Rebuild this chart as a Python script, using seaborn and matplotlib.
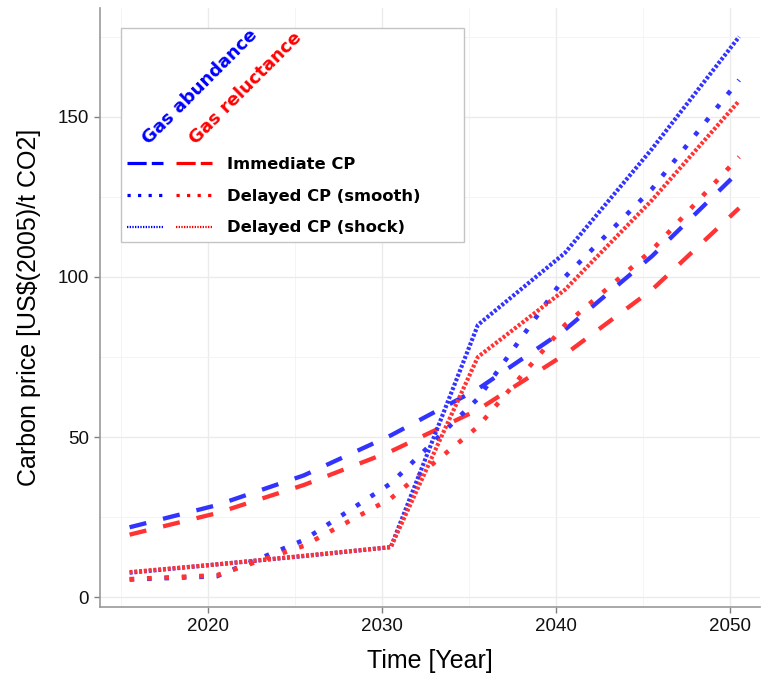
import matplotlib
matplotlib.use('Agg')
import matplotlib.pyplot as plt
import seaborn as sns
import pandas as pd
from matplotlib.lines import Line2D
from matplotlib.legend_handler import HandlerTuple
from matplotlib.patches import Rectangle
from matplotlib.ticker import FixedLocator

# ---------------- data ----------------
years = [2015.5, 2020.5, 2025.5, 2030.5, 2035.5, 2040.5, 2045.5, 2050.5]
abund_immediate = [21.8, 28.7, 38.0, 50.5, 65.0, 83.5, 106.5, 133.0]
reluc_immediate = [19.5, 26.2, 35.0, 45.5, 58.5, 75.8, 96.0, 121.5]
abund_smooth = [5.5, 6.5, 17.8, 35.5, 62.0, 100.0, 127.5, 161.5]
reluc_smooth = [5.6, 6.8, 16.0, 30.8, 53.2, 85.0, 108.4, 137.5]
abund_shock = [7.6, 10.2, 12.8, 15.6, 85.0, 107.5, 140.0, 175.0]
reluc_shock = [7.8, 10.2, 12.9, 15.6, 75.0, 96.0, 124.0, 155.0]

scenarios = ['Gas abundance', 'Gas reluctance']
policies = ['Immediate CP', 'Delayed CP (smooth)', 'Delayed CP (shock)']
xticks = [2020, 2030, 2040, 2050]
yticks = [0, 50, 100, 150]
x_minor = [2015, 2025, 2035, 2045]
y_minor = [25, 75, 125, 175]

series = {
    ('Gas abundance', 'Immediate CP'): abund_immediate,
    ('Gas reluctance', 'Immediate CP'): reluc_immediate,
    ('Gas abundance', 'Delayed CP (smooth)'): abund_smooth,
    ('Gas reluctance', 'Delayed CP (smooth)'): reluc_smooth,
    ('Gas abundance', 'Delayed CP (shock)'): abund_shock,
    ('Gas reluctance', 'Delayed CP (shock)'): reluc_shock,
}
rows = []
for (gas, pol), vals in series.items():
    for y, v in zip(years, vals):
        rows.append({'gas': gas, 'policy': pol, 'year': y, 'price': v})
df = pd.DataFrame(rows)

# ---------------- styling ----------------
sns.set_theme(style='white')
plt.rcParams['font.family'] = ['Liberation Sans', 'DejaVu Sans']

line_colors = {'Gas abundance': '#3333ff', 'Gas reluctance': '#ff3333'}
key_colors = {'Gas abundance': '#0000ff', 'Gas reluctance': '#ff0000'}
styles = {
    'Immediate CP': dict(lw=3.1, ls=(0, (4, 4))),
    'Delayed CP (smooth)': dict(lw=3.3, ls=(0, (1, 2.8))),
    'Delayed CP (shock)': dict(lw=3.0, ls=(0, (0.7, 0.45))),
}

fig = plt.figure(figsize=(7.61, 6.82), dpi=100)
fig.patch.set_facecolor('white')
ax = fig.add_axes([100 / 761, 75 / 682, 660 / 761, 599 / 682])
ax.set_facecolor('white')

for pol in policies:
    for gas in scenarios:
        sub = df[(df['gas'] == gas) & (df['policy'] == pol)]
        sns.lineplot(data=sub, x='year', y='price', ax=ax, color=line_colors[gas],
                     linewidth=styles[pol]['lw'], linestyle=styles[pol]['ls'],
                     legend=False, zorder=3)

ax.set_xlim(2013.8, 2051.7)
ax.set_ylim(-3.1, 184)
ax.set_xticks(xticks)
ax.set_yticks(yticks)
ax.xaxis.set_minor_locator(FixedLocator(x_minor))
ax.yaxis.set_minor_locator(FixedLocator(y_minor))
ax.grid(True, which='major', color='#ebebeb', lw=1.0, zorder=0)
ax.grid(True, which='minor', color='#f3f3f3', lw=0.6, zorder=0)
ax.set_axisbelow(True)

for s in ['top', 'right']:
    ax.spines[s].set_visible(False)
for s in ['left', 'bottom']:
    ax.spines[s].set_color('#9a9a9a')
    ax.spines[s].set_linewidth(1.2)

ax.tick_params(axis='both', which='major', length=4, width=1, color='#7f7f7f',
               labelsize=13.5, labelcolor='#111111', direction='out', pad=4,
               bottom=True, left=True)
ax.tick_params(axis='both', which='minor', length=0)
ax.set_xlabel('Time [Year]', fontsize=18, labelpad=10, color='black')
ax.set_ylabel(r'Carbon price [US\$(2005)/t CO2]', fontsize=18, labelpad=12, color='black')

# ---------------- legend ----------------
frame = Rectangle((21 / 660, 365 / 599), 343 / 660, 214 / 599, transform=ax.transAxes,
                  facecolor='white', edgecolor='#c4c4c4', lw=1.0, zorder=4)
ax.add_patch(frame)

key_styles = {
    'Immediate CP': dict(lw=2.3, ls=(0, (6.0, 1.6))),
    'Delayed CP (smooth)': dict(lw=2.3, ls=(0, (1.0, 2.3))),
    'Delayed CP (shock)': dict(lw=1.6, ls=(0, (0.6, 0.6))),
}
handles = []
for pol in policies:
    hb = Line2D([], [], color=key_colors['Gas abundance'], lw=key_styles[pol]['lw'],
                linestyle=key_styles[pol]['ls'])
    hr = Line2D([], [], color=key_colors['Gas reluctance'], lw=key_styles[pol]['lw'],
                linestyle=key_styles[pol]['ls'])
    handles.append((hb, hr))

leg = ax.legend(handles=handles, labels=policies,
                handler_map={tuple: HandlerTuple(ndivide=None, pad=0.8)},
                loc='upper left', bbox_to_anchor=(27 / 660, (607 - 157) / 599),
                frameon=False, handlelength=5.2, handletextpad=0.9,
                labelspacing=1.02, borderpad=0, borderaxespad=0,
                prop={'family': 'DejaVu Sans', 'weight': 'bold', 'size': 11.8})
for t in leg.get_texts():
    t.set_color('black')
leg.set_zorder(6)

ax.text((149 - 100) / 660, (607 - 145) / 599, 'Gas abundance', transform=ax.transAxes,
        rotation=45, rotation_mode='anchor', ha='left', va='baseline',
        color='#0000ff', fontsize=13, fontweight='bold', family='DejaVu Sans', zorder=7)
ax.text((196 - 100) / 660, (607 - 145) / 599, 'Gas reluctance', transform=ax.transAxes,
        rotation=45, rotation_mode='anchor', ha='left', va='baseline',
        color='#ff0000', fontsize=13, fontweight='bold', family='DejaVu Sans', zorder=7)

fig.savefig('out.png', dpi=100, facecolor='white')
